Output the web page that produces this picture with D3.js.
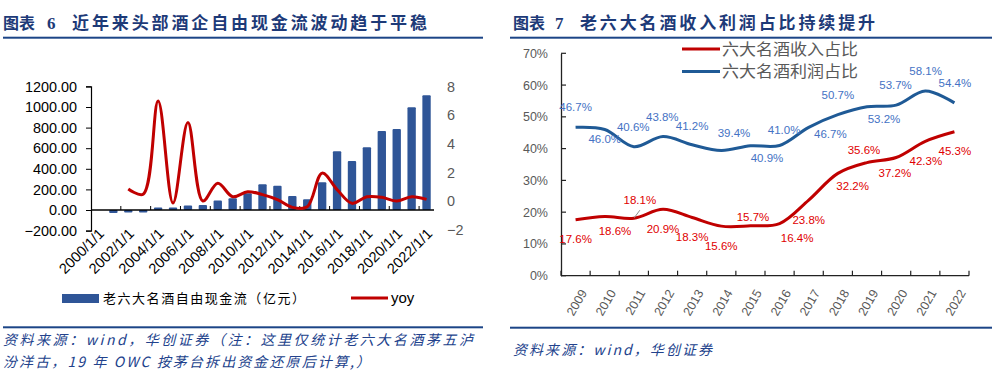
<!DOCTYPE html>
<html><head><meta charset="utf-8">
<script src="https://cdn.jsdelivr.net/npm/d3@7"></script>
<style>html,body{margin:0;padding:0;background:#fff;}svg{display:block;}</style>
</head><body>
<svg id="c" width="1002" height="379"></svg>
<script>
// ---------- data: left chart ----------
const fcfYears = ["2000","2001","2002","2003","2004","2005","2006","2007","2008","2009","2010","2011","2012","2013","2014","2015","2016","2017","2018","2019","2020","2021","2022"];
const fcfValues = [null,-30,-12,-8,8,6,43,49,93,113,162,250,236,136,104,269,570,476,609,767,787,997,1114];
const yoyValues = [null,null,0.86,0.5,7.0,-0.12,5.5,0.02,1.26,0.32,0.67,0.47,0.12,-0.42,-0.38,1.97,0.82,-0.14,0.32,0.28,0.02,0.32,0.14];
const leftTicks = [-200,0,200,400,600,800,1000,1200];
const rightTicks = [-2,0,2,4,6,8];
const xLabelYears = ["2000","2002","2004","2006","2008","2010","2012","2014","2016","2018","2020","2022"];
// ---------- data: right chart ----------
const shareYears = ["2009","2010","2011","2012","2013","2014","2015","2016","2017","2018","2019","2020","2021","2022"];
const revenueShare = [17.6,18.6,18.1,20.9,18.3,15.6,15.7,16.4,23.8,32.2,35.6,37.2,42.3,45.3];
const profitShare = [46.7,46.0,40.6,43.8,41.2,39.4,40.9,41.0,46.7,50.7,53.2,53.7,58.1,54.4];
const pctTicks = [0,10,20,30,40,50,60,70];

const NUM = "'Liberation Sans', Arial, sans-serif";
const CJK = "'Noto Sans CJK SC', 'Noto Sans', sans-serif";
const TITLE_C = "#1d3a78", RULE_C = "#1c4587", SRC_C = "#22428c";
const BAR_C = "#2f5597", RED = "#c00000", BLUE = "#1f5a96";

const svg = d3.select("#c");

// ---------- titles, rules, sources ----------
function title(x0, num, numX, bodyX, body, bodyLen) {
  svg.append("text").attr("x", x0).attr("y", 29).attr("font-family", CJK).attr("font-weight", 700)
    .attr("font-size", 16).attr("fill", TITLE_C).attr("textLength", 32).attr("lengthAdjust","spacing").text("图表");
  svg.append("text").attr("x", numX).attr("y", 29).attr("font-family", "'Liberation Serif', serif").attr("font-weight", 700)
    .attr("font-size", 17).attr("fill", TITLE_C).text(num);
  svg.append("text").attr("x", bodyX).attr("y", 29).attr("font-family", CJK).attr("font-weight", 700)
    .attr("font-size", 17).attr("fill", TITLE_C).attr("textLength", bodyLen).attr("lengthAdjust","spacing").text(body);
}
title(3, "6", 47, 72, "近年来头部酒企自由现金流波动趋于平稳", 355);
title(513, "7", 555, 580, "老六大名酒收入利润占比持续提升", 295);
svg.append("rect").attr("x", 3).attr("y", 36.7).attr("width", 480).attr("height", 2).attr("fill", RULE_C);
svg.append("rect").attr("x", 510).attr("y", 36.7).attr("width", 482).attr("height", 2).attr("fill", RULE_C);
svg.append("rect").attr("x", 3).attr("y", 326.3).attr("width", 480).attr("height", 2).attr("fill", RULE_C);
svg.append("rect").attr("x", 510).attr("y", 326.7).attr("width", 482).attr("height", 2).attr("fill", RULE_C);
function src(x, y, len, t) {
  svg.append("text").attr("x", x).attr("y", y).attr("font-family", CJK).attr("font-style", "italic")
    .attr("font-size", 14).attr("fill", SRC_C).attr("textLength", len).attr("lengthAdjust","spacing").text(t);
}
src(3, 345, 470, "资料来源：wind，华创证券（注：这里仅统计老六大名酒茅五泸");
src(3, 367, 367, "汾洋古，19 年 OWC 按茅台拆出资金还原后计算,）");
src(513, 355, 199, "资料来源：wind，华创证券");

// ---------- left chart ----------
const xL = d3.scaleBand().domain(fcfYears).range([91, 434]).paddingInner(0.44).paddingOuter(0.22);
const yL = d3.scaleLinear().domain([-200, 1200]).range([230.6, 86.4]);
const yR = d3.scaleLinear().domain([-2, 8]).range([230, 86.7]);
const cx = d => xL(d) + xL.bandwidth() / 2;
const gL = svg.append("g");

// bars
gL.selectAll("rect.bar").data(fcfYears.map((y, i) => ({y, v: fcfValues[i]})).filter(d => d.v !== null))
  .enter().append("rect").attr("class", "bar")
  .attr("x", d => xL(d.y)).attr("width", xL.bandwidth())
  .attr("y", d => d.v >= 0 ? yL(d.v) - (Math.abs(yL(d.v) - yL(0)) < 2.5 ? 2.5 - Math.abs(yL(d.v) - yL(0)) : 0) : yL(0))
  .attr("height", d => Math.max(2.5, Math.abs(yL(d.v) - yL(0))))
  .attr("rx", 1).attr("fill", BAR_C);

// left axis
const axL = gL.append("g").attr("transform", "translate(91,0)")
  .call(d3.axisLeft(yL).tickValues(leftTicks).tickFormat(d3.format(".2f")).tickSize(5).tickPadding(9));
axL.select(".domain").attr("stroke", "#000").attr("stroke-width", 1.2);
axL.selectAll(".tick line").attr("stroke", "#000");
axL.selectAll("text").attr("font-family", NUM).attr("font-size", 14.4).attr("fill", "#000");

// right axis labels
const axR = gL.append("g").attr("transform", "translate(440,0)")
  .call(d3.axisRight(yR).tickValues(rightTicks).tickSize(0).tickPadding(7));
axR.select(".domain").remove();
axR.selectAll("text").attr("font-family", NUM).attr("font-size", 14.4).attr("fill", "#595959");

// zero line with boundary ticks
gL.append("line").attr("x1", 91).attr("x2", 434).attr("y1", yL(0)).attr("y2", yL(0)).attr("stroke", "#000").attr("stroke-width", 1.5);
gL.selectAll("line.bt").data(xLabelYears.slice(1)).enter().append("line").attr("class", "bt")
  .attr("x1", d => cx(d) - xL.step() / 2).attr("x2", d => cx(d) - xL.step() / 2)
  .attr("y1", yL(0)).attr("y2", yL(0) - 4).attr("stroke", "#000");

// x labels
gL.selectAll("text.xl").data(xLabelYears).enter().append("text").attr("class", "xl")
  .attr("transform", d => `translate(${cx(d) + 3},${231}) rotate(-45)`)
  .attr("text-anchor", "end").attr("dy", "0.35em")
  .attr("font-family", NUM).attr("font-size", 14.6).attr("fill", "#000").text(d => d + "/1/1");

// yoy line
const yoyLine = d3.line().defined(d => d.v !== null).x(d => cx(d.y)).y(d => yR(d.v)).curve(d3.curveCatmullRom.alpha(0.5));
gL.append("path").datum(fcfYears.map((y, i) => ({y, v: yoyValues[i]})).filter(d => d.v !== null))
  .attr("d", yoyLine).attr("fill", "none").attr("stroke", RED).attr("stroke-width", 3).attr("stroke-linejoin", "round");

// legend
gL.append("rect").attr("x", 62).attr("y", 294).attr("width", 37).attr("height", 9).attr("fill", BAR_C);
gL.append("text").attr("x", 103).attr("y", 298).attr("dy", "0.36em").attr("font-family", CJK).attr("font-size", 13)
  .attr("fill", "#000").attr("textLength", 202).attr("lengthAdjust", "spacing").text("老六大名酒自由现金流（亿元）");
gL.append("line").attr("x1", 351).attr("x2", 388).attr("y1", 298).attr("y2", 298).attr("stroke", RED).attr("stroke-width", 3);
gL.append("text").attr("x", 391).attr("y", 298).attr("dy", "0.35em").attr("font-family", NUM).attr("font-size", 15).attr("fill", "#000").text("yoy");

// ---------- right chart ----------
const xS = d3.scalePoint().domain(shareYears).range([561, 969]).padding(0.5);
const yS = d3.scaleLinear().domain([0, 70]).range([275.7, 53.3]);
const gR = svg.append("g");
const AX = "#222";

const ay = gR.append("g").attr("transform", "translate(561,0)")
  .call(d3.axisLeft(yS).tickValues(pctTicks).tickFormat(d => d + "%").tickSize(0).tickPadding(13));
ay.select(".domain").attr("stroke", AX).attr("stroke-width", 1.3);
ay.selectAll("text").attr("font-family", NUM).attr("font-size", 12.5).attr("fill", "#595959");
gR.selectAll("line.yt").data(pctTicks).enter().append("line").attr("class", "yt")
  .attr("x1", 561).attr("x2", 566).attr("y1", d => yS(d)).attr("y2", d => yS(d)).attr("stroke", AX).attr("stroke-width", 1.2);

gR.append("line").attr("x1", 561).attr("x2", 969).attr("y1", yS(0)).attr("y2", yS(0)).attr("stroke", AX).attr("stroke-width", 1.3);
const stepS = xS.step();
gR.selectAll("line.xt").data(d3.range(shareYears.length + 1)).enter().append("line").attr("class", "xt")
  .attr("x1", i => 561 + i * stepS).attr("x2", i => 561 + i * stepS)
  .attr("y1", yS(0)).attr("y2", yS(0) - 5).attr("stroke", AX).attr("stroke-width", 1.2);
gR.selectAll("text.xs").data(shareYears).enter().append("text").attr("class", "xs")
  .attr("transform", d => `translate(${xS(d) + 8},${290.5}) rotate(-60)`)
  .attr("text-anchor", "end").attr("dy", "0.35em")
  .attr("font-family", NUM).attr("font-size", 12.5).attr("fill", "#595959").text(d => d);

const shareLine = d3.line().x(d => xS(d.y)).y(d => yS(d.v)).curve(d3.curveCatmullRom.alpha(0.5));
const redPts = shareYears.map((y, i) => ({y, v: revenueShare[i]}));
const bluePts = shareYears.map((y, i) => ({y, v: profitShare[i]}));
gR.append("path").datum(bluePts).attr("d", shareLine).attr("fill", "none").attr("stroke", BLUE).attr("stroke-width", 3);
gR.append("path").datum(redPts).attr("d", shareLine).attr("fill", "none").attr("stroke", RED).attr("stroke-width", 3);

// data labels (nudges relative to the point, in px)
const blueNudge = [[0,-20.6],[0,9.7],[-0.6,-19.4],[-0.7,-19.2],[0,-19],[12.7,-17.8],[16.6,12.2],[4.5,-15.4],[21.6,7],[0,-19.6],[17,12.3],[-0.6,-20],[0.3,-20],[0.4,-20]];
const redNudge = [[0,19.2],[10.3,14],[6,-18],[0,20],[0,19.7],[0,20],[2.6,-9],[17.5,14],[0,20],[14.8,12.3],[-3,-12.6],[-1.3,15.8],[0.6,19.7],[0.4,19.2]];
function labels(pts, nudge, color) {
  gR.selectAll(null).data(pts).enter().append("text")
    .attr("x", (d, i) => xS(d.y) + nudge[i][0]).attr("y", (d, i) => yS(d.v) + nudge[i][1])
    .attr("text-anchor", "middle").attr("dy", "0.35em")
    .attr("font-family", NUM).attr("font-size", 11.5).attr("fill", color).text(d => d.v.toFixed(1) + "%");
}
labels(bluePts, blueNudge, "#4472c4");
labels(redPts, redNudge, "#e00000");
// leader line for 2011 revenue label
gR.append("line").attr("x1", xS("2011") + 6).attr("y1", yS(18.1) - 8).attr("x2", xS("2011") + 0.5).attr("y2", yS(18.1) - 0.5)
  .attr("stroke", "#8c8c8c").attr("stroke-width", 1);

// legend
gR.append("line").attr("x1", 682).attr("x2", 720).attr("y1", 49).attr("y2", 49).attr("stroke", RED).attr("stroke-width", 3);
gR.append("text").attr("x", 722).attr("y", 49).attr("dy", "0.36em").attr("font-family", CJK).attr("font-size", 15.5)
  .attr("textLength", 136).attr("lengthAdjust", "spacingAndGlyphs").attr("fill", "#595959").text("六大名酒收入占比");
gR.append("line").attr("x1", 682).attr("x2", 720).attr("y1", 71.5).attr("y2", 71.5).attr("stroke", BLUE).attr("stroke-width", 3);
gR.append("text").attr("x", 722).attr("y", 71.5).attr("dy", "0.36em").attr("font-family", CJK).attr("font-size", 15.5)
  .attr("textLength", 136).attr("lengthAdjust", "spacingAndGlyphs").attr("fill", "#595959").text("六大名酒利润占比");
</script>
</body></html>
